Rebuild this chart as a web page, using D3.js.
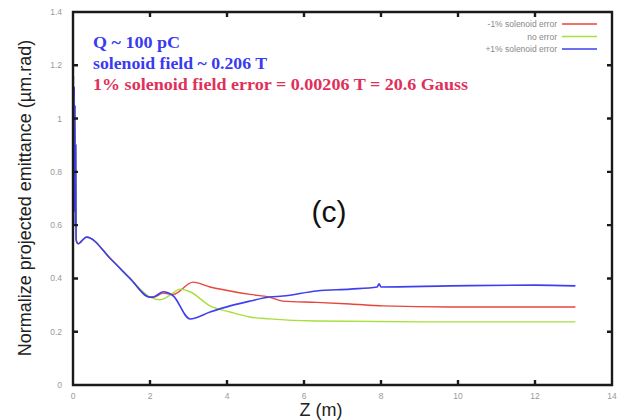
<!DOCTYPE html>
<html>
  <head>
    <meta charset="utf-8">
    <title>Projected emittance vs Z</title>
    <script src="https://d3js.org/d3.v7.min.js"></script>
    <style>
      body { margin: 0; background: #fff; }
      svg { display: block; }
    </style>
  </head>
  <body>
    <div id="chart"></div>
    <script>
      // series: [z (m), emittance (um.rad)]
      const common = [[0, 0.56], [0.01, 1.16], [0.02, 0.7], [0.03, 1.12], [0.04, 0.65], [0.05, 1.05], [0.06, 0.6],
        [0.07, 0.9], [0.08, 0.55], [0.1, 0.535], [0.14, 0.53], [0.22, 0.54], [0.35, 0.555], [1.0, 0.47], [1.48, 0.40],
        [2.0, 0.33]];
      const minusErr = [[2.1, 0.33], [2.34, 0.345], [2.6, 0.34], [3.12, 0.386], [3.56, 0.368], [4.08, 0.353], [4.6, 0.34],
        [5.1, 0.33], [5.45, 0.315], [6.33, 0.31], [7.2, 0.304], [8.05, 0.297], [9.8, 0.293], [13.05, 0.293]];
      const noErr = [[2.26, 0.32], [2.5, 0.335], [2.78, 0.36], [3.04, 0.35], [3.56, 0.297], [4.08, 0.274], [4.6, 0.255],
        [5.1, 0.248], [6.33, 0.24], [9.8, 0.237], [13.05, 0.237]];
      const plusErr = [[2.08, 0.33], [2.34, 0.35], [2.6, 0.335], [3.04, 0.248], [3.56, 0.274], [4.08, 0.297], [4.6, 0.315],
        [5.1, 0.33], [5.45, 0.334], [6.33, 0.353], [7.2, 0.36], [7.9, 0.368], [7.95, 0.38], [8.0, 0.368], [9.8, 0.372],
        [12, 0.375], [13.05, 0.372]];
      const seriesNames = ["-1% solenoid error", "no error", "+1% solenoid error"];
      const seriesColors = ["#e8453c", "#a6e03a", "#3f3ff0"];
      const xTicks = [0, 2, 4, 6, 8, 10, 12, 14];
      const yTicks = [0, 0.2, 0.4, 0.6, 0.8, 1, 1.2, 1.4];

      const width = 624, height = 420;
      const margin = { top: 12, right: 12, bottom: 35, left: 73 };

      const svg = d3.select("#chart").append("svg")
        .attr("width", width)
        .attr("height", height);

      const x = d3.scaleLinear().domain([0, 14]).range([margin.left, width - margin.right]);
      const y = d3.scaleLinear().domain([0, 1.4]).range([height - margin.bottom, margin.top]);

      const sans = "Liberation Sans, Arial, sans-serif";

      // tick labels
      svg.append("g").selectAll("text")
        .data(xTicks)
        .join("text")
          .attr("x", d => x(d))
          .attr("y", y(0) + 14)
          .attr("text-anchor", "middle")
          .attr("fill", "#999")
          .attr("font-family", sans)
          .attr("font-size", 8.5)
          .text(d => d);
      svg.append("g").selectAll("text")
        .data(yTicks)
        .join("text")
          .attr("x", x(0) - 11)
          .attr("y", d => y(d) + 3)
          .attr("text-anchor", "end")
          .attr("fill", "#999")
          .attr("font-family", sans)
          .attr("font-size", 8.5)
          .text(d => +d.toFixed(1));

      // curves
      const line = d3.line().x(d => x(d[0])).y(d => y(d[1])).curve(d3.curveMonotoneX);
      const allSeries = [common.concat(minusErr), common.concat(noErr), common.concat(plusErr)];
      allSeries.forEach((s, i) => {
        svg.append("path")
          .datum(s)
          .attr("d", line)
          .attr("fill", "none")
          .attr("stroke", seriesColors[i])
          .attr("stroke-width", i == 2 ? 1.6 : 1.4);
      });

      // frame with inner ticks on all four sides
      const x0 = x(0), x1 = x(14), yTop = y(1.4), yBot = y(0);
      let framePath = `M${x0},${yTop}H${x1}V${yBot}H${x0}Z`;
      xTicks.forEach(d => {
        framePath += `M${x(d)},${yBot}v-5M${x(d)},${yTop}v5`;
      });
      yTicks.forEach(d => {
        framePath += `M${x0},${y(d)}h5M${x1},${y(d)}h-5`;
      });
      svg.append("path")
        .attr("d", framePath)
        .attr("fill", "none")
        .attr("stroke", "#1a1a1a")
        .attr("stroke-width", 2.4);

      // legend
      const legend = svg.append("g");
      seriesNames.forEach((name, i) => {
        const ly = 24 + i * 12.5;
        legend.append("text")
          .attr("x", 557).attr("y", ly + 3)
          .attr("text-anchor", "end")
          .attr("fill", "#888")
          .attr("font-family", sans)
          .attr("font-size", 8.5)
          .text(name);
        legend.append("line")
          .attr("x1", 562).attr("x2", 597)
          .attr("y1", ly).attr("y2", ly)
          .attr("stroke", seriesColors[i]).attr("stroke-width", 1.5);
      });

      // annotations
      const notes = [
        ["Q ~ 100 pC", "#3a3af0", 48, 87],
        ["solenoid field ~ 0.206 T", "#3a3af0", 69, 174],
        ["1% solenoid field error = 0.00206 T = 20.6 Gauss", "#e0305a", 90, 375]
      ];
      notes.forEach(n => {
        svg.append("text")
          .attr("x", 93).attr("y", n[2])
          .attr("fill", n[1])
          .attr("font-family", "Liberation Serif, Times New Roman, serif")
          .attr("font-weight", "bold")
          .attr("font-size", 16.5)
          .attr("textLength", n[3])
          .attr("lengthAdjust", "spacingAndGlyphs")
          .text(n[0]);
      });
      svg.append("text")
        .attr("x", 329).attr("y", 222)
        .attr("text-anchor", "middle")
        .attr("font-family", sans)
        .attr("font-size", 30)
        .attr("fill", "#111")
        .text("(c)");

      // axis titles
      svg.append("text")
        .attr("x", 321).attr("y", 416)
        .attr("text-anchor", "middle")
        .attr("font-family", sans)
        .attr("font-size", 18)
        .attr("fill", "#222")
        .text("Z (m)");
      svg.append("text")
        .attr("transform", "translate(31,198) rotate(-90)")
        .attr("text-anchor", "middle")
        .attr("font-family", sans)
        .attr("font-size", 18)
        .attr("fill", "#222")
        .text("Normalize projected emittance (µm.rad)");
    </script>
  </body>
</html>
